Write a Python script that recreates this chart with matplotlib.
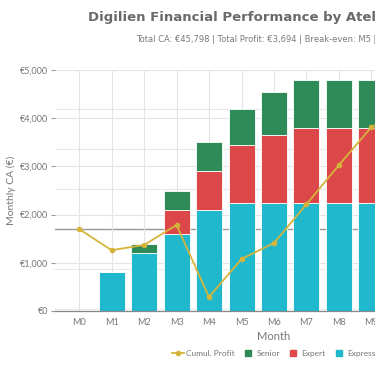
import numpy as np
import matplotlib
matplotlib.use("Agg")
from matplotlib import pyplot as plt
from matplotlib.lines import Line2D

months = ["M0", "M1", "M2", "M3", "M4", "M5", "M6", "M7", "M8", "M9", "M10", "M11", "M12"]
express = [0, 800, 1200, 1600, 2100, 2250, 2250, 2250, 2250, 2250, 2250, 2250, 2250]
expert = [0, 0, 0, 500, 800, 1200, 1400, 1550, 1550, 1550, 1550, 1550, 1550]
senior = [0, 0, 200, 400, 600, 750, 900, 1000, 1000, 1000, 1000, 1000, 1000]
cumul_profit = [0, -530, -400, 100, -1700, -750, -350, 620, 1600, 2550, 2950, 3320, 3694]

c_express = "#20b8cd"
c_expert = "#dc4749"
c_senior = "#2e8b57"
c_profit = "#d6b43c"
grey = "#777777"

plt.rcParams["font.family"] = ["Lato", "DejaVu Sans"]

fig = plt.figure(figsize=(3.75, 3.66), dpi=100)
ax = fig.add_axes([55 / 375, 55 / 366, 438 / 375, 241 / 366])
ax2 = ax.twinx()
# twin axis (profit scale) stays behind the bars
ax2.set_zorder(0)
ax.set_zorder(1)
ax.patch.set_visible(False)

x = np.arange(len(months))
ax.bar(x, express, width=0.8, color=c_express, edgecolor="white", linewidth=0.6, zorder=2)
ax.bar(x, expert, width=0.8, bottom=express, color=c_expert, edgecolor="white", linewidth=0.6, zorder=2)
bottom2 = np.array(express) + np.array(expert)
ax.bar(x, senior, width=0.8, bottom=bottom2, color=c_senior, edgecolor="white", linewidth=0.6, zorder=2)

ax.set_xlim(-0.74, len(months) - 1 + 0.74)
ax.set_ylim(0, 5000)
ax2.set_ylim(-2050, 3976)
ax2.set_yticks([-2000, -1000, 0, 1000, 2000, 3000])
ax2.grid(axis="y", color="#e8e8e8", linewidth=0.8)
ax2.axhline(0, color="#9a9a9a", linewidth=1.0)
ax2.tick_params(right=False, labelright=False)

# profit line uses the twin axis scale but is drawn above the bars
ax.plot(x, cumul_profit, color=c_profit, linewidth=1.3, marker="o", markersize=3,
        transform=ax2.transData, zorder=5, clip_on=False)

ax.set_yticks([0, 1000, 2000, 3000, 4000, 5000])
ax.set_yticklabels(["€0", "€1,000", "€2,000", "€3,000", "€4,000", "€5,000"])
ax.set_xticks(x)
ax.set_xticklabels(months)
ax.grid(color="#e4e4e4", linewidth=0.8)
ax.set_axisbelow(True)
ax.tick_params(axis="y", length=3, color="#999999", labelsize=6.5, labelcolor=grey, pad=2)
ax.tick_params(axis="x", length=0, labelsize=6.5, labelcolor=grey, pad=5)

for side in ["top", "right", "left"]:
    ax.spines[side].set_visible(False)
    ax2.spines[side].set_visible(False)
ax2.spines["bottom"].set_visible(False)
ax.spines["bottom"].set_color("#888888")
ax.spines["bottom"].set_linewidth(0.9)

ax.set_xlabel("Month", fontsize=8, color=grey, labelpad=3)
ax.set_ylabel("Monthly CA (€)", fontsize=7.5, color=grey, labelpad=3)

handles = [
    Line2D([0], [0], color=c_profit, linewidth=1.3, marker="o", markersize=3),
    Line2D([0], [0], color=c_senior, marker="s", linestyle="none", markersize=4.5),
    Line2D([0], [0], color=c_expert, marker="s", linestyle="none", markersize=4.5),
    Line2D([0], [0], color=c_express, marker="s", linestyle="none", markersize=4.5),
]
ax.legend(handles, ["Cumul. Profit", "Senior", "Expert", "Express"], loc="center",
          bbox_to_anchor=(0.5, -0.175), ncol=4, frameon=False, fontsize=6,
          labelcolor=grey, handlelength=1.4, handletextpad=0.3, columnspacing=0.9)

fig.text(88 / 375, 1 - 18 / 366, "Digilien Financial Performance by Atelier Type",
         fontsize=9.5, fontweight="bold", color="#6a6a6a", ha="left", va="center",
         family="DejaVu Sans")
fig.text(136 / 375, 1 - 39 / 366,
         "Total CA: €45,798 | Total Profit: €3,694 | Break-even: M5 | Margin: 8.1%",
         fontsize=6.0, color="#7a7a7a", ha="left", va="center", family="DejaVu Sans")

fig.savefig("out.png", dpi=100)
